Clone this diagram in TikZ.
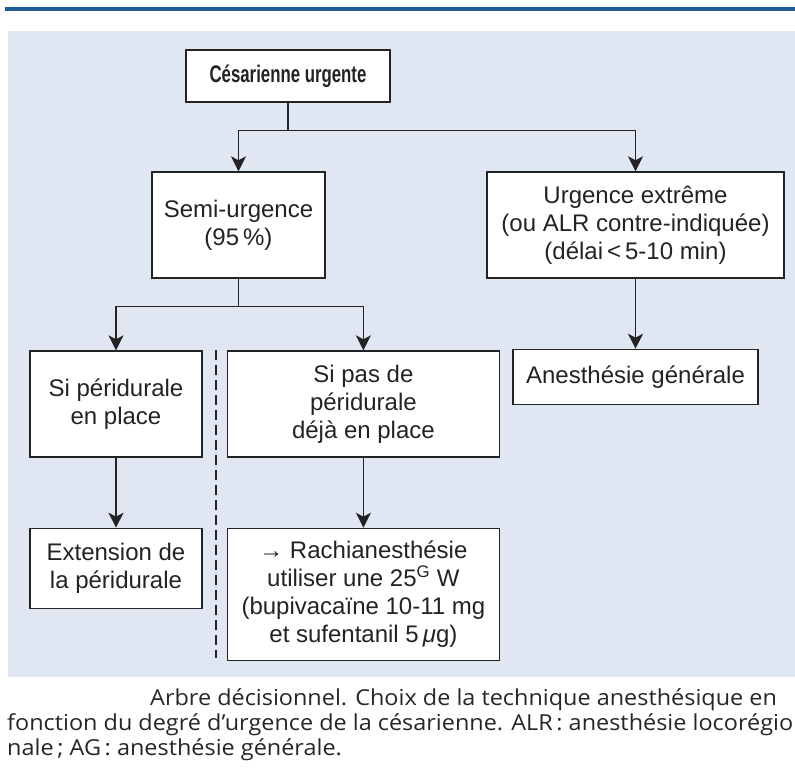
\documentclass[tikz,border=0pt]{standalone}
\usepackage{graphicx}
\usepackage{fontspec}
\setmainfont{Liberation Sans}
\newfontfamily\capfont[FakeStretch=1.065]{Open Sans}
\usetikzlibrary{arrows.meta, positioning}

\definecolor{panelblue}{RGB}{224,230,242}
\definecolor{ruleblue}{RGB}{31,88,148}
\definecolor{inkgray}{RGB}{35,35,35}

\begin{document}
\begin{tikzpicture}[
  x=1pt, y=-1pt,
  every node/.style={font=\fontsize{24}{28}\selectfont, text=inkgray},
  box/.style={rectangle, draw=inkgray, line width=1.4pt, fill=white, align=center, inner sep=0pt},
  arrow/.style={-{Stealth[length=15pt, width=15pt, inset=4pt]}, line width=1.4pt, draw=inkgray},
  caption/.style={anchor=base west, inner sep=0pt, text=black!85, font=\capfont\fontsize{22}{25}\selectfont},
  node distance=70pt
]
\useasboundingbox (0,0) rectangle (795,776);
\clip (0,0) rectangle (795,776);

% Background panel and top rule
\fill[panelblue] (8,31) rectangle (800,677);
\draw[ruleblue, line width=4pt] (5,9) -- (800,9);

% Decision boxes
\node[box, minimum width=204pt, minimum height=52pt] (cesar) at (288,76) {\scalebox{0.7}[1]{\bfseries Césarienne urgente}};
\node[box, minimum width=173pt, minimum height=106pt] (semi) at (238.5,225) {Semi-urgence\\(95\,\%)};
\node[box, minimum width=297pt, minimum height=106pt] (extreme) at (635.5,225) {Urgence extrême\\(ou ALR contre-indiquée)\\(délai\,<\,5-10 min)};
\node[box, minimum width=245pt, minimum height=55pt, below=of extreme] (ag) {Anesthésie générale};

\node[box, minimum width=172pt, minimum height=106pt] (peri) at (116,404) {Si péridurale\\en place};
\node[box, minimum width=272pt, minimum height=106pt, right=24pt of peri] (noperi) {Si pas de\\péridurale\\déjà en place};
\node[box, minimum width=172pt, minimum height=80pt, below=of peri] (extension) {Extension de\\la péridurale};
\node[box, minimum width=272pt, minimum height=132pt, below=of noperi] (rachi) {→ Rachianesthésie\\utiliser une 25\textsuperscript{G} W\\(bupivacaïne 10-11 mg\\et sufentanil 5\,\textit{μ}g)};

% Connectors
\draw[line width=1.4pt, inkgray] (cesar.south) -- ++(0,28) coordinate (forkA);
\draw[arrow] (forkA) -| (semi.north);
\draw[arrow] (forkA) -| (extreme.north);

\draw[line width=1.4pt, inkgray] (semi.south) -- ++(0,28) coordinate (forkB);
\draw[arrow] (forkB) -| (peri.north);
\draw[arrow] (forkB) -| (noperi.north);

\draw[arrow] (extreme) -- (ag);
\draw[arrow] (peri) -- (extension);
\draw[arrow] (noperi) -- (rachi);

% Separator
\coordinate (sepTop) at (216,350);
\coordinate (sepBot) at (216,658);
\draw[inkgray, line width=1.1pt, dash pattern=on 10pt off 5pt] (sepTop) -- (sepBot);

% Caption
\node[caption] (cap1) at (150,705) {Arbre décisionnel. Choix de la technique anesthésique en};
\node[caption] (cap2) at (7,730) {fonction du degré d’urgence de la césarienne. ALR\,: anesthésie locorégio};
\node[caption] (cap3) at (7,755) {nale\,; AG\,: anesthésie générale.};

\end{tikzpicture}
\end{document}
